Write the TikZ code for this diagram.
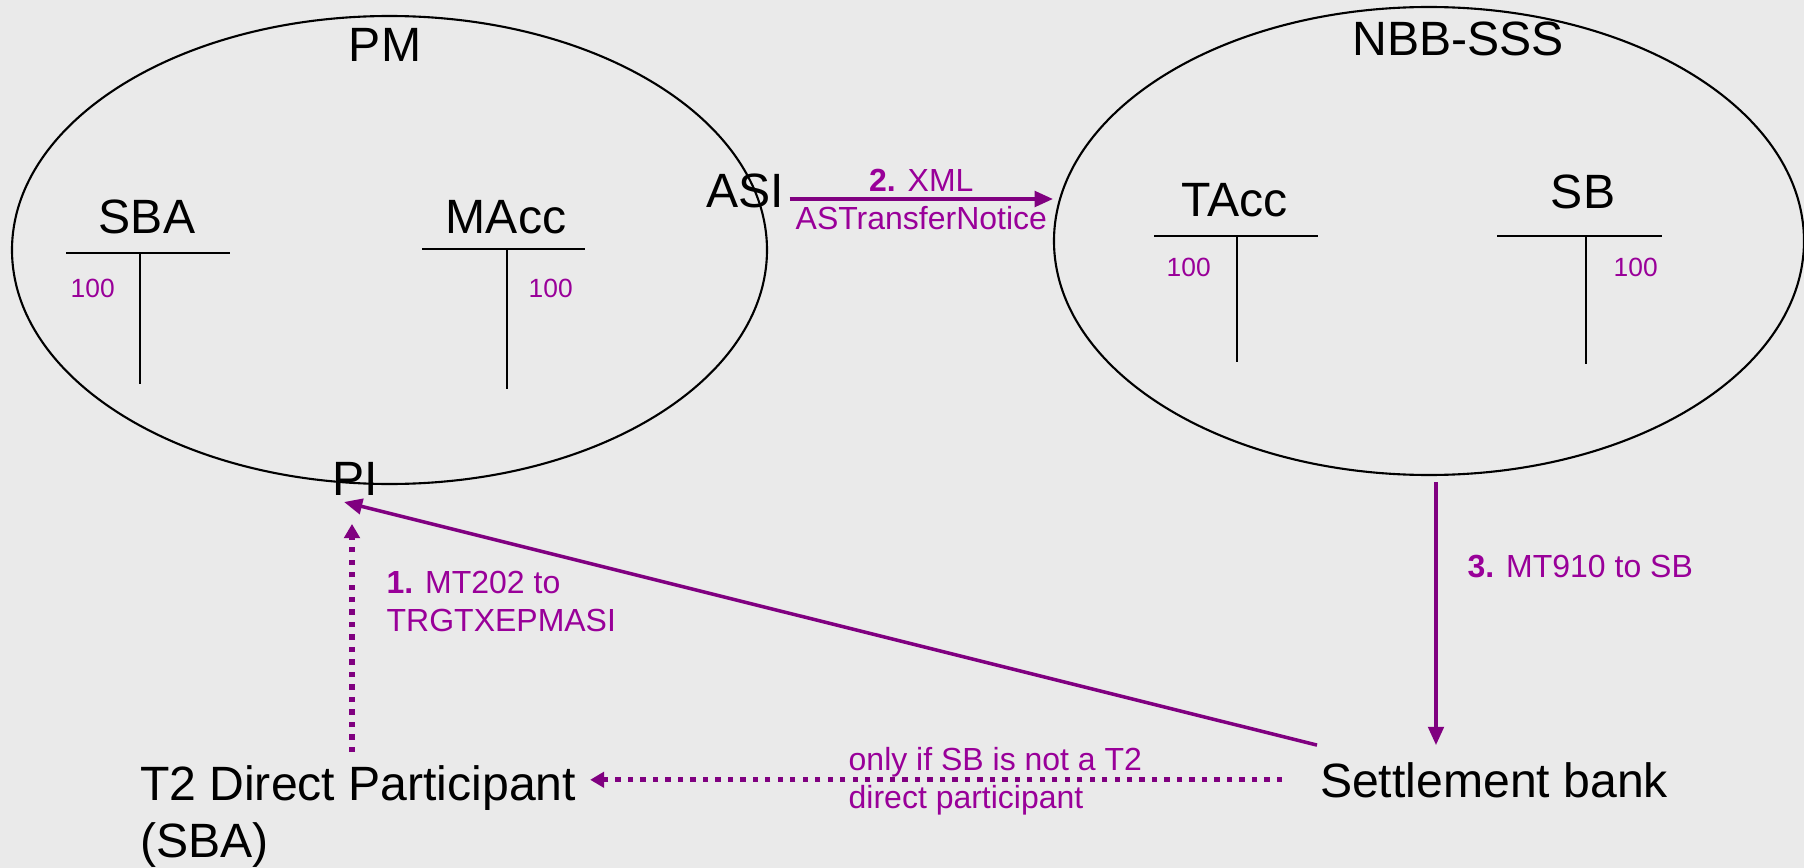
\documentclass[tikz,border=0pt]{standalone}
\usepackage{fontspec}
\setmainfont{Liberation Sans}
\usetikzlibrary{arrows.meta}

\definecolor{bg}{HTML}{EAEAEA}
\definecolor{msgpurple}{HTML}{800080}
\definecolor{lblpurple}{HTML}{990099}

\tikzset{
  big/.style={inner sep=0pt, font=\fontsize{13.7}{16.2}\selectfont},
  lbl/.style={inner sep=0pt, text=lblpurple, align=left, font=\fontsize{9.1}{10.6}\selectfont},
  amt/.style={inner sep=0pt, text=lblpurple, font=\fontsize{7.5}{9}\selectfont},
  ring/.style={draw=black, line width=0.6pt},
  tline/.style={draw=black, line width=0.6pt},
  msg/.style={draw=msgpurple, line width=1pt, -{Triangle[length=5.2pt,width=4.4pt]}},
  opt/.style={draw=msgpurple, line width=1.45pt, dash pattern=on 1.5pt off 2.05pt, -{Triangle[length=4pt,width=4.4pt]}},
}

\begin{document}
\begin{tikzpicture}[x=0.1mm, y=-0.1mm]
    \fill[bg] (0,0) rectangle (1804,868);
    \useasboundingbox (0,0) rectangle (1804,868);

    % payments module and securities settlement system
    \draw[ring] (389.5,250) ellipse [x radius=377.5, y radius=234];
    \draw[ring] (1429,241) ellipse [x radius=375, y radius=234];
    \node[big, anchor=base] (pm) at (385,62) {PM};
    \node[big, anchor=base] (nbb) at (1458,55) {NBB-SSS};

    % T-accounts
    \node[big, anchor=base] (sba) at (147,233) {SBA};
    \draw[tline] (66,253) -- (230,253);
    \draw[tline] (140,253) -- (140,384);
    \node[amt, anchor=base west] (sba100) at (70,298) {100};

    \node[big, anchor=base] (macc) at (506,233) {MAcc};
    \draw[tline] (422,249) -- (585,249);
    \draw[tline] (507,249) -- (507,389);
    \node[amt, anchor=base west] (macc100) at (528,297) {100};

    \node[big, anchor=base] (tacc) at (1235,216) {TAcc};
    \draw[tline] (1154,236) -- (1318,236);
    \draw[tline] (1237,236) -- (1237,362);
    \node[amt, anchor=base west] (tacc100) at (1166,276) {100};

    \node[big, anchor=base] (sb) at (1583,208) {SB};
    \draw[tline] (1497,236) -- (1662,236);
    \draw[tline] (1586,236) -- (1586,364);
    \node[amt, anchor=base west] (sb100) at (1613,276) {100};

    % interfaces and participants
    \node[big, anchor=base west, outer sep=0.6mm] (asi) at (700,207) {ASI};
    \node[big, anchor=base west] (pi) at (332,495) {PI};
    \node[big, anchor=north west, align=left, outer sep=1.4mm] (dp) at (126,752) {T2 Direct Participant\\(SBA)};
    \node[big, anchor=base west, outer sep=1.7mm] (bank) at (1303,797) {Settlement bank};

    \coordinate (sssleft) at (1053,199);
    \coordinate (sssbot) at (1436,482);
    \coordinate (piin) at (344,502);
    \coordinate (piup) at (352,524);

    % messages
    \draw[msg] (sssleft -| asi.east) -- (sssleft)
        node[midway, above, lbl, inner sep=0.6mm] {\textbf{2.} XML}
        node[midway, below, lbl, inner sep=0.6mm] {ASTransferNotice};
    \draw[msg] (sssbot) -- (sssbot |- bank.north);
    \node[lbl, anchor=base west] (mt910) at (1467,577) {\textbf{3.} MT910 to SB};
    \draw[msg] ([xshift=1.4mm]bank.north west) -- (piin);

    \draw[opt] (piup |- dp.north) -- (piup);
    \node[lbl, anchor=base west] (mt202) at (386,631) {\textbf{1.} MT202 to\\TRGTXEPMASI};

    \draw[opt] ([xshift=-2.1mm]bank.west) -- (bank.west -| dp.east);
    \node[lbl, anchor=base west] (onlyif) at (848,808) {only if SB is not a T2\\direct participant};
\end{tikzpicture}
\end{document}
